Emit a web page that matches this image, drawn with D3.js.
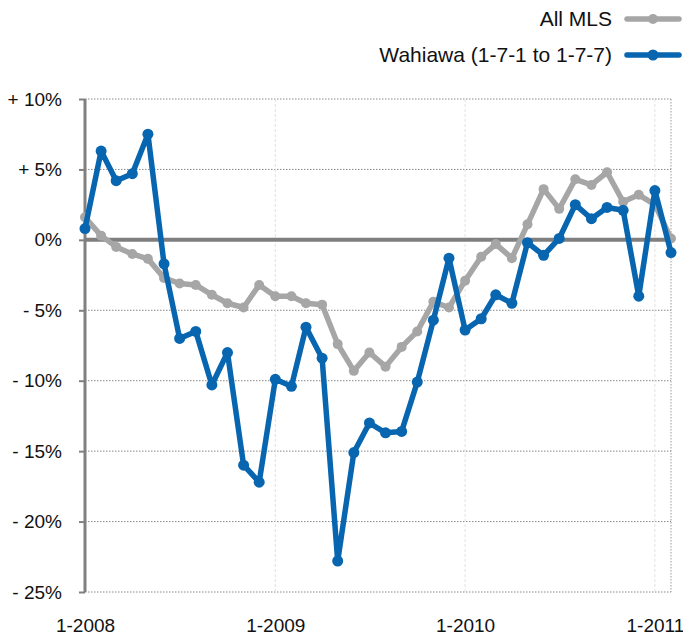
<!DOCTYPE html>
<html>
<head>
<meta charset="utf-8">
<script src="https://cdn.jsdelivr.net/npm/d3@7"></script>
<style>
  html, body { margin: 0; padding: 0; background: #fff; }
  svg { display: block; font-family: "Liberation Sans", Arial, Helvetica, sans-serif; }
</style>
</head>
<body>
<svg id="chart" width="683" height="637"></svg>
<script>
// Monthly year-over-year change, Jan 2008 – Feb 2011 (percent)
const months = d3.range(38).map(i => new Date(2008, i, 1));

const allMLS = [
  1.6, 0.3, -0.5, -1.0, -1.35, -2.7, -3.1, -3.2, -3.9, -4.5, -4.8, -3.2,
  -4.0, -4.0, -4.5, -4.6, -7.4, -9.3, -8.0, -9.0, -7.6, -6.5, -4.4, -4.8,
  -2.9, -1.2, -0.3, -1.3, 1.1, 3.6, 2.2, 4.3, 3.9, 4.8, 2.7, 3.2,
  2.5, 0.1
];

const wahiawa = [
  0.8, 6.3, 4.2, 4.7, 7.5, -1.7, -7.0, -6.5, -10.3, -8.0, -16.0, -17.2,
  -9.9, -10.4, -6.2, -8.4, -22.8, -15.1, -13.0, -13.7, -13.6, -10.1, -5.7, -1.3,
  -6.4, -5.6, -3.9, -4.5, -0.2, -1.1, 0.1, 2.5, 1.5, 2.3, 2.1, -4.0,
  3.5, -0.9
];

const yTicks = [10, 5, 0, -5, -10, -15, -20, -25];
const yearTicks = [new Date(2008, 0, 1), new Date(2009, 0, 1), new Date(2010, 0, 1), new Date(2011, 0, 1)];

const seriesNames = ["All MLS", "Wahiawa (1-7-1 to 1-7-7)"];
const seriesColors = ["#a6a6a6", "#0866b0"];
const markerRadius = [5, 5.5];

const svg = d3.select("#chart");
const plotL = 85, plotR = 671, plotT = 99, plotB = 592;

const x = d3.scaleTime()
  .domain([months[0], months[months.length - 1]])
  .range([plotL, plotR]);
const y = d3.scaleLinear().domain([-25, 10]).range([plotB, plotT]);

// Horizontal dotted gridlines
svg.append("g").selectAll("line")
  .data(yTicks.filter(d => d !== 0))
  .join("line")
  .attr("x1", plotL).attr("x2", plotR)
  .attr("y1", d => y(d)).attr("y2", d => y(d))
  .attr("stroke", "#8a8a8a").attr("stroke-width", 1)
  .attr("stroke-dasharray", "1.5,1.5");

// Vertical year gridlines (faint) and right border
svg.append("g").selectAll("line")
  .data(yearTicks.slice(1))
  .join("line")
  .attr("x1", d => x(d)).attr("x2", d => x(d))
  .attr("y1", plotT).attr("y2", plotB)
  .attr("stroke", "#e2e2e2").attr("stroke-width", 1)
  .attr("stroke-dasharray", "3,2");
svg.append("line")
  .attr("x1", plotR).attr("x2", plotR).attr("y1", plotT).attr("y2", plotB)
  .attr("stroke", "#9a9a9a").attr("stroke-width", 1)
  .attr("stroke-dasharray", "1.5,1.5");

// Zero baseline
svg.append("line")
  .attr("x1", plotL).attr("x2", plotR)
  .attr("y1", y(0)).attr("y2", y(0))
  .attr("stroke", "#7f7f7f").attr("stroke-width", 4);

// Y axis
const yAxis = d3.axisLeft(y)
  .tickValues(yTicks)
  .tickSize(6)
  .tickPadding(17)
  .tickFormat(d => d > 0 ? "+ " + d + "%" : d < 0 ? "- " + Math.abs(d) + "%" : "0%");
const gy = svg.append("g").attr("transform", `translate(${plotL},0)`).call(yAxis);
gy.select(".domain").attr("stroke", "#808080").attr("stroke-width", 3)
  .attr("d", `M0,${plotT}V${plotB}`);
gy.selectAll(".tick line").attr("stroke", "#808080").attr("stroke-width", 2);
gy.selectAll(".tick text")
  .attr("font-size", 19).attr("fill", "#111")
  .attr("font-family", "'Liberation Sans', Arial, sans-serif");

// X axis labels
const xAxis = d3.axisBottom(x)
  .tickValues(yearTicks)
  .tickSize(0)
  .tickPadding(0)
  .tickFormat(d => "1-" + d.getFullYear());
const gx = svg.append("g").attr("transform", `translate(0,${plotB + 26})`).call(xAxis);
gx.select(".domain").remove();
gx.selectAll(".tick text")
  .attr("font-size", 19).attr("fill", "#111")
  .attr("font-family", "'Liberation Sans', Arial, sans-serif");

// Series lines with markers
const line = d3.line().x((d, i) => x(months[i])).y(d => y(d));
[allMLS, wahiawa].forEach((vals, s) => {
  const g = svg.append("g");
  g.append("path")
    .datum(vals)
    .attr("d", line)
    .attr("fill", "none")
    .attr("stroke", seriesColors[s])
    .attr("stroke-width", 5.5)
    .attr("stroke-linejoin", "round");
  g.selectAll("circle")
    .data(vals)
    .join("circle")
    .attr("cx", (d, i) => x(months[i]))
    .attr("cy", d => y(d))
    .attr("r", markerRadius[s])
    .attr("fill", seriesColors[s]);
});

// Legend
const legend = svg.append("g");
const legendRows = [26, 62];
seriesNames.forEach((name, s) => {
  const ly = legendRows[s];
  legend.append("text")
    .attr("x", 612).attr("y", ly)
    .attr("text-anchor", "end")
    .attr("font-size", 21).attr("fill", "#111")
    .text(name);
  legend.append("line")
    .attr("x1", 627).attr("x2", 679)
    .attr("y1", ly - 7).attr("y2", ly - 7)
    .attr("stroke", seriesColors[s]).attr("stroke-width", 5.5)
    .attr("stroke-linecap", "round");
  legend.append("circle")
    .attr("cx", 653).attr("cy", ly - 7).attr("r", markerRadius[s])
    .attr("fill", seriesColors[s]);
});
</script>
</body>
</html>
